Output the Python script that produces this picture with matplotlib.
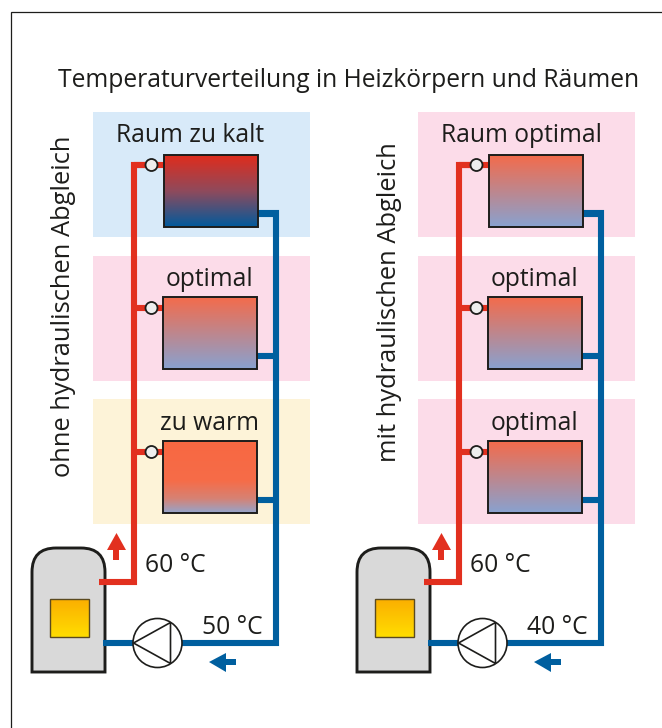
import numpy as np
import matplotlib
matplotlib.use("Agg")
import matplotlib.pyplot as plt
from matplotlib.colors import LinearSegmentedColormap
from matplotlib.patches import Circle, PathPatch, Polygon, Rectangle
from matplotlib.path import Path

plt.rcParams["font.family"] = ["Open Sans", "DejaVu Sans"]

TITLE = "Temperaturverteilung in Heizkörpern und Räumen"
SIDE_LABELS = ["ohne hydraulischen Abgleich", "mit hydraulischen Abgleich"]
ROOMS_LEFT = ["Raum zu kalt", "optimal", "zu warm"]
ROOMS_RIGHT = ["Raum optimal", "optimal", "optimal"]
SUPPLY_TEMPS = ["60 °C", "60 °C"]
RETURN_TEMPS = ["50 °C", "40 °C"]
STATE_LEFT = ["cold", "ok", "warm"]
STATE_RIGHT = ["ok", "ok", "ok"]

RED = "#e2301f"
BLUE = "#005f9f"
INK = "#1d1d1b"
ROOM_BG = {"cold": "#d8eaf9", "ok": "#fcdce9", "warm": "#fdf3d8"}

# gradient stops per room state
GRADIENTS = {
    "cold": [(0, "#e02c1c"), (0.5, "#8f4a5c"), (1, "#005a9c")],
    "ok": [(0, "#f46b4b"), (1, "#88a2d0")],
    "warm": [(0, "#f86842"), (0.55, "#f66c48"), (0.8, "#d68274"), (1, "#94a5cc")],
}

FONT = 17.7
SIDE_FONT = 18.4
PIPE = 4.4
ROW_TOPS = [112, 256, 399]
ROOM_H = 125
RAD_W = 94
RAD_H = 72


def line(ax, xs, ys, color, lw=PIPE, z=3):
    ax.plot(xs, ys, color=color, lw=lw, solid_capstyle="butt", solid_joinstyle="miter", zorder=z)


def radiator(ax, x, y, state):
    cmap = LinearSegmentedColormap.from_list(state, GRADIENTS[state])
    grad = np.linspace(0, 1, 256).reshape(-1, 1)
    ax.imshow(grad, cmap=cmap, extent=(x, x + RAD_W, y + RAD_H, y), aspect="auto", zorder=4)
    ax.add_patch(Rectangle((x, y), RAD_W, RAD_H, fill=False, ec=INK, lw=1.4, zorder=5))


def panel(ax, x0, rooms, states, side, side_x, side_y, supply, ret):
    red_x = x0 + 41
    blue_x = x0 + 182.5
    for i, (top, name, state) in enumerate(zip(ROW_TOPS, rooms, states)):
        ax.add_patch(Rectangle((x0, top), 217, ROOM_H, fc=ROOM_BG[state], ec="none", zorder=1))
        rx = x0 + 70 + (1 if i == 0 else 0)
        ry = top + 41 + (1 if i == 2 else 0) + (2 if i == 0 else 0)
        radiator(ax, rx, ry, state)
        vy = ry + 11 - (1 if i == 0 else 0)
        line(ax, [red_x, rx], [vy, vy], RED)
        ax.add_patch(Circle((x0 + 58.5, vy), 6, fc="#eeeeee", ec=INK, lw=1.3, zorder=6))
        line(ax, [rx + RAD_W, blue_x], [ry + 59, ry + 59], BLUE)
        base = top + 30 + (1 if i == 2 else 0)
        if i == 0:
            ax.text(x0 + 23, base, name, fontsize=FONT, color=INK, ha="left", va="baseline", zorder=6)
        else:
            ax.text(x0 + 116.5, base, name, fontsize=FONT, color=INK, ha="center", va="baseline", zorder=6)

    # boiler
    bx = x0 - 61
    verts = [(bx, 672), (bx, 572), (bx, 548), (bx + 24, 548), (bx + 49, 548),
             (bx + 73, 548), (bx + 73, 572), (bx + 73, 672), (bx, 672)]
    codes = [Path.MOVETO, Path.LINETO, Path.CURVE3, Path.CURVE3, Path.LINETO,
             Path.CURVE3, Path.CURVE3, Path.LINETO, Path.CLOSEPOLY]
    ax.add_patch(PathPatch(Path(verts, codes), fc="#d9d9d9", ec=INK, lw=2.1,
                           joinstyle="miter", zorder=2))
    flame = LinearSegmentedColormap.from_list("flame", ["#fbaf00", "#ffdd00"])
    grad = np.linspace(0, 1, 64).reshape(-1, 1)
    ax.imshow(grad, cmap=flame, extent=(bx + 18, bx + 57, 637, 599), aspect="auto", zorder=5)
    ax.add_patch(Rectangle((bx + 18, 599), 39, 38, fill=False, ec="#5a4a20", lw=1.0, zorder=6))

    # supply and return pipes
    first_vy = ROW_TOPS[0] + 53
    line(ax, [x0 + 6, red_x, red_x, red_x + 14], [582, 582, first_vy, first_vy], RED)
    line(ax, [x0 + 165, blue_x, blue_x, x0 + 10],
         [ROW_TOPS[0] + 101, ROW_TOPS[0] + 101, 643, 643], BLUE)

    # pump
    cx, cy = x0 + 64.5, 643
    ax.add_patch(Circle((cx, cy), 24.5, fc="white", ec=INK, lw=1.2, zorder=5))
    ax.add_patch(Polygon([(cx - 24, cy), (cx + 13, cy - 20.5), (cx + 13, cy + 20.5)],
                         fill=False, ec=INK, lw=1.2, zorder=6))

    # flow arrows
    ax.add_patch(Polygon([(x0 + 23.5, 533), (x0 + 14, 550), (x0 + 20, 550), (x0 + 20, 560),
                          (x0 + 26, 560), (x0 + 26, 550), (x0 + 33, 550)],
                         fc=RED, ec="none", zorder=4))
    ax.add_patch(Polygon([(x0 + 116, 662), (x0 + 133, 653), (x0 + 133, 659), (x0 + 143, 659),
                          (x0 + 143, 665), (x0 + 133, 665), (x0 + 133, 672)],
                         fc=BLUE, ec="none", zorder=4))

    ax.text(x0 + 82, 572, supply, fontsize=FONT, color=INK, ha="center", va="baseline")
    ax.text(x0 + 139, 634, ret, fontsize=FONT, color=INK, ha="center", va="baseline")
    ax.text(side_x, side_y, side, fontsize=SIDE_FONT, color=INK, rotation=90, ha="center", va="center")


fig = plt.figure(figsize=(6.62, 7.28), dpi=100)
ax = fig.add_axes([0, 0, 1, 1])
ax.axis("off")

line(ax, [10.5, 10.5, 662], [728, 11.5, 11.5], INK, lw=0.9, z=2)
ax.text(349, 87, TITLE, fontsize=FONT, color=INK, ha="center", va="baseline")

panel(ax, 93, ROOMS_LEFT, STATE_LEFT, SIDE_LABELS[0], 64, 306, SUPPLY_TEMPS[0], RETURN_TEMPS[0])
panel(ax, 418, ROOMS_RIGHT, STATE_RIGHT, SIDE_LABELS[1], 389, 302, SUPPLY_TEMPS[1], RETURN_TEMPS[1])

ax.set_xlim(0, 662)
ax.set_ylim(728, 0)
fig.savefig("out.png", dpi=100)
